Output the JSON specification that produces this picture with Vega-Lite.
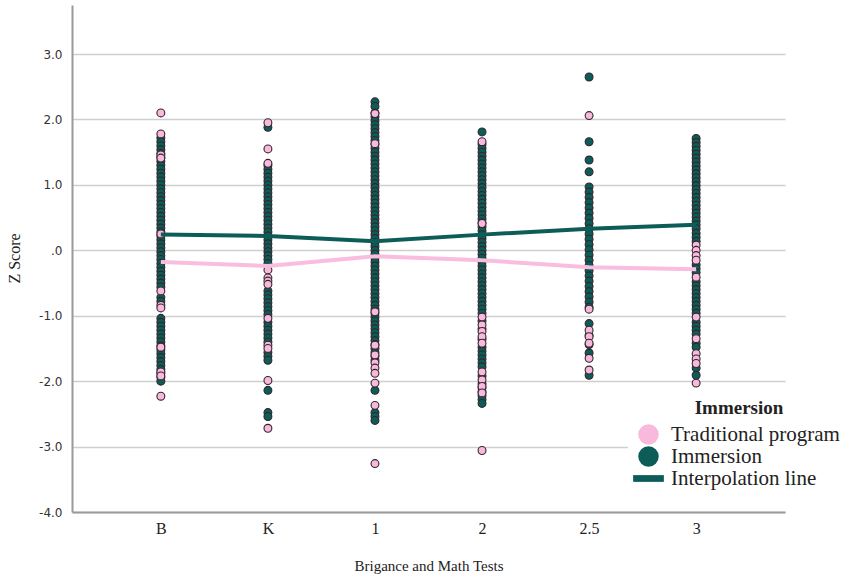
{
  "$schema": "https://vega.github.io/schema/vega-lite/v6.json",
  "autosize": "none",
  "width": 713,
  "height": 507,
  "padding": {"left": 72, "top": 5, "right": 66, "bottom": 69},
  "background": "white",
  "config": {"view": {"stroke": null}},
  "datasets": {
    "points": [
      {"test":"B","group":"Immersion","z":1.72},{"test":"B","group":"Immersion","z":1.66},{"test":"B","group":"Immersion","z":1.6},{"test":"B","group":"Immersion","z":1.54},{"test":"B","group":"Immersion","z":1.48},{"test":"B","group":"Immersion","z":1.42},{"test":"B","group":"Immersion","z":1.36},{"test":"B","group":"Immersion","z":1.3},{"test":"B","group":"Immersion","z":1.24},{"test":"B","group":"Immersion","z":1.18},{"test":"B","group":"Immersion","z":1.12},{"test":"B","group":"Immersion","z":1.06},{"test":"B","group":"Immersion","z":1.0},{"test":"B","group":"Immersion","z":0.94},{"test":"B","group":"Immersion","z":0.88},{"test":"B","group":"Immersion","z":0.82},{"test":"B","group":"Immersion","z":0.76},{"test":"B","group":"Immersion","z":0.7},{"test":"B","group":"Immersion","z":0.64},{"test":"B","group":"Immersion","z":0.58},{"test":"B","group":"Immersion","z":0.52},{"test":"B","group":"Immersion","z":0.46},{"test":"B","group":"Immersion","z":0.4},{"test":"B","group":"Immersion","z":0.34},{"test":"B","group":"Immersion","z":0.28},{"test":"B","group":"Immersion","z":0.22},{"test":"B","group":"Immersion","z":0.16},{"test":"B","group":"Immersion","z":0.1},{"test":"B","group":"Immersion","z":0.04},{"test":"B","group":"Immersion","z":-0.02},{"test":"B","group":"Immersion","z":-0.08},{"test":"B","group":"Immersion","z":-0.14},{"test":"B","group":"Immersion","z":-0.2},{"test":"B","group":"Immersion","z":-0.26},{"test":"B","group":"Immersion","z":-0.32},{"test":"B","group":"Immersion","z":-0.38},{"test":"B","group":"Immersion","z":-0.44},{"test":"B","group":"Immersion","z":-0.5},{"test":"B","group":"Immersion","z":-0.56},{"test":"B","group":"Immersion","z":-0.72},{"test":"B","group":"Immersion","z":-0.78},{"test":"B","group":"Immersion","z":-1.04},{"test":"B","group":"Immersion","z":-1.1},{"test":"B","group":"Immersion","z":-1.16},{"test":"B","group":"Immersion","z":-1.22},{"test":"B","group":"Immersion","z":-1.28},{"test":"B","group":"Immersion","z":-1.34},{"test":"B","group":"Immersion","z":-1.4},{"test":"B","group":"Immersion","z":-1.46},{"test":"B","group":"Immersion","z":-1.52},{"test":"B","group":"Immersion","z":-1.58},{"test":"B","group":"Immersion","z":-1.64},{"test":"B","group":"Immersion","z":-1.7},{"test":"B","group":"Immersion","z":-1.76},{"test":"B","group":"Immersion","z":-1.82},{"test":"B","group":"Immersion","z":-1.88},{"test":"B","group":"Immersion","z":-1.94},{"test":"B","group":"Immersion","z":-2.0},
      {"test":"K","group":"Immersion","z":1.88},{"test":"K","group":"Immersion","z":1.3},{"test":"K","group":"Immersion","z":1.24},{"test":"K","group":"Immersion","z":1.18},{"test":"K","group":"Immersion","z":1.12},{"test":"K","group":"Immersion","z":1.06},{"test":"K","group":"Immersion","z":1.0},{"test":"K","group":"Immersion","z":0.94},{"test":"K","group":"Immersion","z":0.88},{"test":"K","group":"Immersion","z":0.82},{"test":"K","group":"Immersion","z":0.76},{"test":"K","group":"Immersion","z":0.7},{"test":"K","group":"Immersion","z":0.64},{"test":"K","group":"Immersion","z":0.58},{"test":"K","group":"Immersion","z":0.52},{"test":"K","group":"Immersion","z":0.46},{"test":"K","group":"Immersion","z":0.4},{"test":"K","group":"Immersion","z":0.34},{"test":"K","group":"Immersion","z":0.28},{"test":"K","group":"Immersion","z":0.22},{"test":"K","group":"Immersion","z":0.16},{"test":"K","group":"Immersion","z":0.1},{"test":"K","group":"Immersion","z":0.04},{"test":"K","group":"Immersion","z":-0.02},{"test":"K","group":"Immersion","z":-0.08},{"test":"K","group":"Immersion","z":-0.14},{"test":"K","group":"Immersion","z":-0.2},{"test":"K","group":"Immersion","z":-0.62},{"test":"K","group":"Immersion","z":-0.68},{"test":"K","group":"Immersion","z":-0.74},{"test":"K","group":"Immersion","z":-0.8},{"test":"K","group":"Immersion","z":-0.86},{"test":"K","group":"Immersion","z":-0.92},{"test":"K","group":"Immersion","z":-0.98},{"test":"K","group":"Immersion","z":-1.1},{"test":"K","group":"Immersion","z":-1.16},{"test":"K","group":"Immersion","z":-1.22},{"test":"K","group":"Immersion","z":-1.28},{"test":"K","group":"Immersion","z":-1.34},{"test":"K","group":"Immersion","z":-1.4},{"test":"K","group":"Immersion","z":-1.56},{"test":"K","group":"Immersion","z":-1.62},{"test":"K","group":"Immersion","z":-1.68},{"test":"K","group":"Immersion","z":-2.14},{"test":"K","group":"Immersion","z":-2.48},{"test":"K","group":"Immersion","z":-2.54},
      {"test":"1","group":"Immersion","z":2.27},{"test":"1","group":"Immersion","z":2.2},{"test":"1","group":"Immersion","z":2.1},{"test":"1","group":"Immersion","z":2.04},{"test":"1","group":"Immersion","z":1.98},{"test":"1","group":"Immersion","z":1.92},{"test":"1","group":"Immersion","z":1.86},{"test":"1","group":"Immersion","z":1.8},{"test":"1","group":"Immersion","z":1.74},{"test":"1","group":"Immersion","z":1.68},{"test":"1","group":"Immersion","z":1.62},{"test":"1","group":"Immersion","z":1.56},{"test":"1","group":"Immersion","z":1.5},{"test":"1","group":"Immersion","z":1.44},{"test":"1","group":"Immersion","z":1.38},{"test":"1","group":"Immersion","z":1.32},{"test":"1","group":"Immersion","z":1.26},{"test":"1","group":"Immersion","z":1.2},{"test":"1","group":"Immersion","z":1.14},{"test":"1","group":"Immersion","z":1.08},{"test":"1","group":"Immersion","z":1.02},{"test":"1","group":"Immersion","z":0.96},{"test":"1","group":"Immersion","z":0.9},{"test":"1","group":"Immersion","z":0.84},{"test":"1","group":"Immersion","z":0.78},{"test":"1","group":"Immersion","z":0.72},{"test":"1","group":"Immersion","z":0.66},{"test":"1","group":"Immersion","z":0.6},{"test":"1","group":"Immersion","z":0.54},{"test":"1","group":"Immersion","z":0.48},{"test":"1","group":"Immersion","z":0.42},{"test":"1","group":"Immersion","z":0.36},{"test":"1","group":"Immersion","z":0.3},{"test":"1","group":"Immersion","z":0.24},{"test":"1","group":"Immersion","z":0.18},{"test":"1","group":"Immersion","z":0.12},{"test":"1","group":"Immersion","z":0.06},{"test":"1","group":"Immersion","z":0.0},{"test":"1","group":"Immersion","z":-0.06},{"test":"1","group":"Immersion","z":-0.12},{"test":"1","group":"Immersion","z":-0.18},{"test":"1","group":"Immersion","z":-0.24},{"test":"1","group":"Immersion","z":-0.3},{"test":"1","group":"Immersion","z":-0.36},{"test":"1","group":"Immersion","z":-0.42},{"test":"1","group":"Immersion","z":-0.48},{"test":"1","group":"Immersion","z":-0.54},{"test":"1","group":"Immersion","z":-0.6},{"test":"1","group":"Immersion","z":-0.66},{"test":"1","group":"Immersion","z":-0.72},{"test":"1","group":"Immersion","z":-0.78},{"test":"1","group":"Immersion","z":-0.84},{"test":"1","group":"Immersion","z":-0.9},{"test":"1","group":"Immersion","z":-0.96},{"test":"1","group":"Immersion","z":-1.02},{"test":"1","group":"Immersion","z":-1.08},{"test":"1","group":"Immersion","z":-1.14},{"test":"1","group":"Immersion","z":-1.2},{"test":"1","group":"Immersion","z":-1.26},{"test":"1","group":"Immersion","z":-1.32},{"test":"1","group":"Immersion","z":-1.38},{"test":"1","group":"Immersion","z":-1.44},{"test":"1","group":"Immersion","z":-1.5},{"test":"1","group":"Immersion","z":-1.56},{"test":"1","group":"Immersion","z":-1.62},{"test":"1","group":"Immersion","z":-1.68},{"test":"1","group":"Immersion","z":-2.14},{"test":"1","group":"Immersion","z":-2.48},{"test":"1","group":"Immersion","z":-2.54},{"test":"1","group":"Immersion","z":-2.6},
      {"test":"2","group":"Immersion","z":1.81},{"test":"2","group":"Immersion","z":1.62},{"test":"2","group":"Immersion","z":1.56},{"test":"2","group":"Immersion","z":1.5},{"test":"2","group":"Immersion","z":1.44},{"test":"2","group":"Immersion","z":1.38},{"test":"2","group":"Immersion","z":1.32},{"test":"2","group":"Immersion","z":1.26},{"test":"2","group":"Immersion","z":1.2},{"test":"2","group":"Immersion","z":1.14},{"test":"2","group":"Immersion","z":1.08},{"test":"2","group":"Immersion","z":1.02},{"test":"2","group":"Immersion","z":0.96},{"test":"2","group":"Immersion","z":0.9},{"test":"2","group":"Immersion","z":0.84},{"test":"2","group":"Immersion","z":0.78},{"test":"2","group":"Immersion","z":0.72},{"test":"2","group":"Immersion","z":0.66},{"test":"2","group":"Immersion","z":0.6},{"test":"2","group":"Immersion","z":0.54},{"test":"2","group":"Immersion","z":0.48},{"test":"2","group":"Immersion","z":0.42},{"test":"2","group":"Immersion","z":0.36},{"test":"2","group":"Immersion","z":0.3},{"test":"2","group":"Immersion","z":0.24},{"test":"2","group":"Immersion","z":0.18},{"test":"2","group":"Immersion","z":0.12},{"test":"2","group":"Immersion","z":0.06},{"test":"2","group":"Immersion","z":0.0},{"test":"2","group":"Immersion","z":-0.06},{"test":"2","group":"Immersion","z":-0.12},{"test":"2","group":"Immersion","z":-0.18},{"test":"2","group":"Immersion","z":-0.24},{"test":"2","group":"Immersion","z":-0.3},{"test":"2","group":"Immersion","z":-0.36},{"test":"2","group":"Immersion","z":-0.42},{"test":"2","group":"Immersion","z":-0.48},{"test":"2","group":"Immersion","z":-0.54},{"test":"2","group":"Immersion","z":-0.6},{"test":"2","group":"Immersion","z":-0.66},{"test":"2","group":"Immersion","z":-0.72},{"test":"2","group":"Immersion","z":-0.78},{"test":"2","group":"Immersion","z":-0.84},{"test":"2","group":"Immersion","z":-0.9},{"test":"2","group":"Immersion","z":-0.96},{"test":"2","group":"Immersion","z":-1.08},{"test":"2","group":"Immersion","z":-1.2},{"test":"2","group":"Immersion","z":-1.36},{"test":"2","group":"Immersion","z":-1.48},{"test":"2","group":"Immersion","z":-1.54},{"test":"2","group":"Immersion","z":-1.6},{"test":"2","group":"Immersion","z":-1.66},{"test":"2","group":"Immersion","z":-1.72},{"test":"2","group":"Immersion","z":-1.78},{"test":"2","group":"Immersion","z":-1.92},{"test":"2","group":"Immersion","z":-2.04},{"test":"2","group":"Immersion","z":-2.1},{"test":"2","group":"Immersion","z":-2.16},{"test":"2","group":"Immersion","z":-2.22},{"test":"2","group":"Immersion","z":-2.28},{"test":"2","group":"Immersion","z":-2.34},
      {"test":"2.5","group":"Immersion","z":2.65},{"test":"2.5","group":"Immersion","z":1.66},{"test":"2.5","group":"Immersion","z":1.38},{"test":"2.5","group":"Immersion","z":1.2},{"test":"2.5","group":"Immersion","z":0.97},{"test":"2.5","group":"Immersion","z":0.89},{"test":"2.5","group":"Immersion","z":0.81},{"test":"2.5","group":"Immersion","z":0.73},{"test":"2.5","group":"Immersion","z":0.65},{"test":"2.5","group":"Immersion","z":0.57},{"test":"2.5","group":"Immersion","z":0.49},{"test":"2.5","group":"Immersion","z":0.41},{"test":"2.5","group":"Immersion","z":0.33},{"test":"2.5","group":"Immersion","z":0.25},{"test":"2.5","group":"Immersion","z":0.17},{"test":"2.5","group":"Immersion","z":0.09},{"test":"2.5","group":"Immersion","z":0.01},{"test":"2.5","group":"Immersion","z":-0.07},{"test":"2.5","group":"Immersion","z":-0.15},{"test":"2.5","group":"Immersion","z":-0.23},{"test":"2.5","group":"Immersion","z":-0.31},{"test":"2.5","group":"Immersion","z":-0.39},{"test":"2.5","group":"Immersion","z":-0.47},{"test":"2.5","group":"Immersion","z":-0.55},{"test":"2.5","group":"Immersion","z":-0.63},{"test":"2.5","group":"Immersion","z":-0.71},{"test":"2.5","group":"Immersion","z":-0.79},{"test":"2.5","group":"Immersion","z":-0.87},{"test":"2.5","group":"Immersion","z":-1.12},{"test":"2.5","group":"Immersion","z":-1.3},{"test":"2.5","group":"Immersion","z":-1.44},{"test":"2.5","group":"Immersion","z":-1.57},{"test":"2.5","group":"Immersion","z":-1.91},
      {"test":"3","group":"Immersion","z":1.71},{"test":"3","group":"Immersion","z":1.65},{"test":"3","group":"Immersion","z":1.59},{"test":"3","group":"Immersion","z":1.53},{"test":"3","group":"Immersion","z":1.47},{"test":"3","group":"Immersion","z":1.41},{"test":"3","group":"Immersion","z":1.35},{"test":"3","group":"Immersion","z":1.29},{"test":"3","group":"Immersion","z":1.23},{"test":"3","group":"Immersion","z":1.17},{"test":"3","group":"Immersion","z":1.11},{"test":"3","group":"Immersion","z":1.05},{"test":"3","group":"Immersion","z":0.99},{"test":"3","group":"Immersion","z":0.93},{"test":"3","group":"Immersion","z":0.87},{"test":"3","group":"Immersion","z":0.81},{"test":"3","group":"Immersion","z":0.75},{"test":"3","group":"Immersion","z":0.69},{"test":"3","group":"Immersion","z":0.63},{"test":"3","group":"Immersion","z":0.57},{"test":"3","group":"Immersion","z":0.51},{"test":"3","group":"Immersion","z":0.45},{"test":"3","group":"Immersion","z":0.39},{"test":"3","group":"Immersion","z":0.33},{"test":"3","group":"Immersion","z":0.26},{"test":"3","group":"Immersion","z":0.2},{"test":"3","group":"Immersion","z":0.14},{"test":"3","group":"Immersion","z":-0.22},{"test":"3","group":"Immersion","z":-0.28},{"test":"3","group":"Immersion","z":-0.34},{"test":"3","group":"Immersion","z":-0.48},{"test":"3","group":"Immersion","z":-0.54},{"test":"3","group":"Immersion","z":-0.6},{"test":"3","group":"Immersion","z":-0.66},{"test":"3","group":"Immersion","z":-0.72},{"test":"3","group":"Immersion","z":-0.78},{"test":"3","group":"Immersion","z":-0.84},{"test":"3","group":"Immersion","z":-0.9},{"test":"3","group":"Immersion","z":-0.96},{"test":"3","group":"Immersion","z":-1.1},{"test":"3","group":"Immersion","z":-1.16},{"test":"3","group":"Immersion","z":-1.22},{"test":"3","group":"Immersion","z":-1.28},{"test":"3","group":"Immersion","z":-1.42},{"test":"3","group":"Immersion","z":-1.48},{"test":"3","group":"Immersion","z":-1.8},{"test":"3","group":"Immersion","z":-1.91},
      {"test":"B","group":"Traditional program","z":2.1},{"test":"B","group":"Traditional program","z":1.78},{"test":"B","group":"Traditional program","z":1.46},{"test":"B","group":"Traditional program","z":1.41},{"test":"B","group":"Traditional program","z":0.25},{"test":"B","group":"Traditional program","z":-0.62},{"test":"B","group":"Traditional program","z":-0.84},{"test":"B","group":"Traditional program","z":-0.88},{"test":"B","group":"Traditional program","z":-1.48},{"test":"B","group":"Traditional program","z":-1.86},{"test":"B","group":"Traditional program","z":-1.92},{"test":"B","group":"Traditional program","z":-2.23},
      {"test":"K","group":"Traditional program","z":1.95},{"test":"K","group":"Traditional program","z":1.55},{"test":"K","group":"Traditional program","z":1.33},{"test":"K","group":"Traditional program","z":-0.3},{"test":"K","group":"Traditional program","z":-0.42},{"test":"K","group":"Traditional program","z":-0.47},{"test":"K","group":"Traditional program","z":-0.52},{"test":"K","group":"Traditional program","z":-1.04},{"test":"K","group":"Traditional program","z":-1.45},{"test":"K","group":"Traditional program","z":-1.5},{"test":"K","group":"Traditional program","z":-1.99},{"test":"K","group":"Traditional program","z":-2.72},
      {"test":"1","group":"Traditional program","z":2.09},{"test":"1","group":"Traditional program","z":1.63},{"test":"1","group":"Traditional program","z":-0.94},{"test":"1","group":"Traditional program","z":-1.45},{"test":"1","group":"Traditional program","z":-1.6},{"test":"1","group":"Traditional program","z":-1.72},{"test":"1","group":"Traditional program","z":-1.8},{"test":"1","group":"Traditional program","z":-1.88},{"test":"1","group":"Traditional program","z":-2.03},{"test":"1","group":"Traditional program","z":-2.37},{"test":"1","group":"Traditional program","z":-3.26},
      {"test":"2","group":"Traditional program","z":1.66},{"test":"2","group":"Traditional program","z":0.41},{"test":"2","group":"Traditional program","z":-1.02},{"test":"2","group":"Traditional program","z":-1.14},{"test":"2","group":"Traditional program","z":-1.24},{"test":"2","group":"Traditional program","z":-1.32},{"test":"2","group":"Traditional program","z":-1.42},{"test":"2","group":"Traditional program","z":-1.86},{"test":"2","group":"Traditional program","z":-1.98},{"test":"2","group":"Traditional program","z":-2.08},{"test":"2","group":"Traditional program","z":-2.18},{"test":"2","group":"Traditional program","z":-3.06},
      {"test":"2.5","group":"Traditional program","z":2.06},{"test":"2.5","group":"Traditional program","z":-0.9},{"test":"2.5","group":"Traditional program","z":-1.22},{"test":"2.5","group":"Traditional program","z":-1.32},{"test":"2.5","group":"Traditional program","z":-1.42},{"test":"2.5","group":"Traditional program","z":-1.65},{"test":"2.5","group":"Traditional program","z":-1.83},
      {"test":"3","group":"Traditional program","z":0.08},{"test":"3","group":"Traditional program","z":0.0},{"test":"3","group":"Traditional program","z":-0.08},{"test":"3","group":"Traditional program","z":-0.15},{"test":"3","group":"Traditional program","z":-0.41},{"test":"3","group":"Traditional program","z":-1.02},{"test":"3","group":"Traditional program","z":-1.35},{"test":"3","group":"Traditional program","z":-1.58},{"test":"3","group":"Traditional program","z":-1.66},{"test":"3","group":"Traditional program","z":-1.73},{"test":"3","group":"Traditional program","z":-2.03}
    ],
    "means": [
      {"test":"B","group":"Immersion","z":0.24},{"test":"K","group":"Immersion","z":0.22},{"test":"1","group":"Immersion","z":0.14},{"test":"2","group":"Immersion","z":0.24},{"test":"2.5","group":"Immersion","z":0.33},{"test":"3","group":"Immersion","z":0.39},
      {"test":"B","group":"Traditional program","z":-0.18},{"test":"K","group":"Traditional program","z":-0.24},{"test":"1","group":"Traditional program","z":-0.09},{"test":"2","group":"Traditional program","z":-0.15},{"test":"2.5","group":"Traditional program","z":-0.26},{"test":"3","group":"Traditional program","z":-0.29}
    ]
  },
  "encoding": {
    "x": {
      "field": "test", "type": "ordinal", "sort": ["B","K","1","2","2.5","3"],
      "scale": {"type": "point", "padding": 0.83},
      "axis": {
        "title": "Brigance and Math Tests", "titleFont": "Liberation Serif", "titleFontSize": 15, "titleFontWeight": "normal", "titleColor": "#222", "titlePadding": 22,
        "labelFont": "Liberation Serif", "labelFontSize": 16, "labelColor": "#222", "labelPadding": 8, "labelAngle": 0,
        "ticks": false, "domainColor": "#9a9a9a", "domainWidth": 2, "grid": false
      }
    },
    "y": {
      "field": "z", "type": "quantitative",
      "scale": {"domain": [-4, 3.75], "nice": false, "zero": false},
      "axis": {
        "title": "Z Score", "titleFont": "Liberation Serif", "titleFontSize": 16, "titleFontWeight": "normal", "titleColor": "#222",
        "titleAngle": -90, "titleX": -58, "titleY": 253, "titleAlign": "center", "titleBaseline": "middle",
        "values": [-4, -3, -2, -1, 0, 1, 2, 3],
        "labelExpr": "datum.value === 0 ? '.0' : (datum.value < 0 ? '-' + format(-datum.value, '.1f') : format(datum.value, '.1f'))",
        "labelFont": "DejaVu Sans", "labelFontSize": 12, "labelColor": "#333", "labelPadding": 10,
        "ticks": false, "domainColor": "#9a9a9a", "domainWidth": 2,
        "grid": true, "gridColor": "#cfcfcf", "gridWidth": 1.3
      }
    }
  },
  "layer": [
    {
      "data": {"name": "points"},
      "mark": {"type": "point", "filled": true, "size": 62, "stroke": "#33262c", "strokeWidth": 1.1, "opacity": 1},
      "encoding": {
        "color": {
          "field": "group", "type": "nominal",
          "scale": {"domain": ["Traditional program", "Immersion", "Interpolation line"], "range": ["#f8b9dd", "#0c5d58", "#0c5d58"]},
          "legend": {
            "title": "Immersion", "orient": "none", "legendX": 556, "legendY": 384,
            "fillColor": "white", "padding": 10,
            "titleFont": "Liberation Serif", "titleFontSize": 19, "titleFontWeight": "bold", "titleColor": "#222",
            "titleAnchor": "middle", "titlePadding": 6,
            "labelFont": "Liberation Serif", "labelFontSize": 21, "labelColor": "#222", "labelOffset": 12, "labelLimit": 300,
            "symbolSize": 420, "symbolStrokeWidth": 0, "rowPadding": 0, "symbolOpacity": 1
          }
        },
        "shape": {
          "field": "group", "type": "nominal",
          "scale": {"domain": ["Traditional program", "Immersion", "Interpolation line"], "range": ["circle", "circle", "M-1.5,-0.33H1.5V0.33H-1.5Z"]},
          "legend": {
            "title": "Immersion", "orient": "none", "legendX": 556, "legendY": 384,
            "fillColor": "white", "padding": 10,
            "titleFont": "Liberation Serif", "titleFontSize": 19, "titleFontWeight": "bold", "titleColor": "#222",
            "titleAnchor": "middle", "titlePadding": 6,
            "labelFont": "Liberation Serif", "labelFontSize": 21, "labelColor": "#222", "labelOffset": 12, "labelLimit": 300,
            "symbolSize": 420, "symbolStrokeWidth": 0, "rowPadding": 0, "symbolOpacity": 1
          }
        }
      }
    },
    {
      "data": {"name": "means"},
      "transform": [{"filter": "datum.group === 'Traditional program'"}],
      "mark": {"type": "line", "color": "#f9bde0", "strokeWidth": 4},
      "encoding": {}
    },
    {
      "data": {"name": "means"},
      "transform": [{"filter": "datum.group === 'Immersion'"}],
      "mark": {"type": "line", "color": "#0c5d58", "strokeWidth": 4},
      "encoding": {}
    }
  ]
}
